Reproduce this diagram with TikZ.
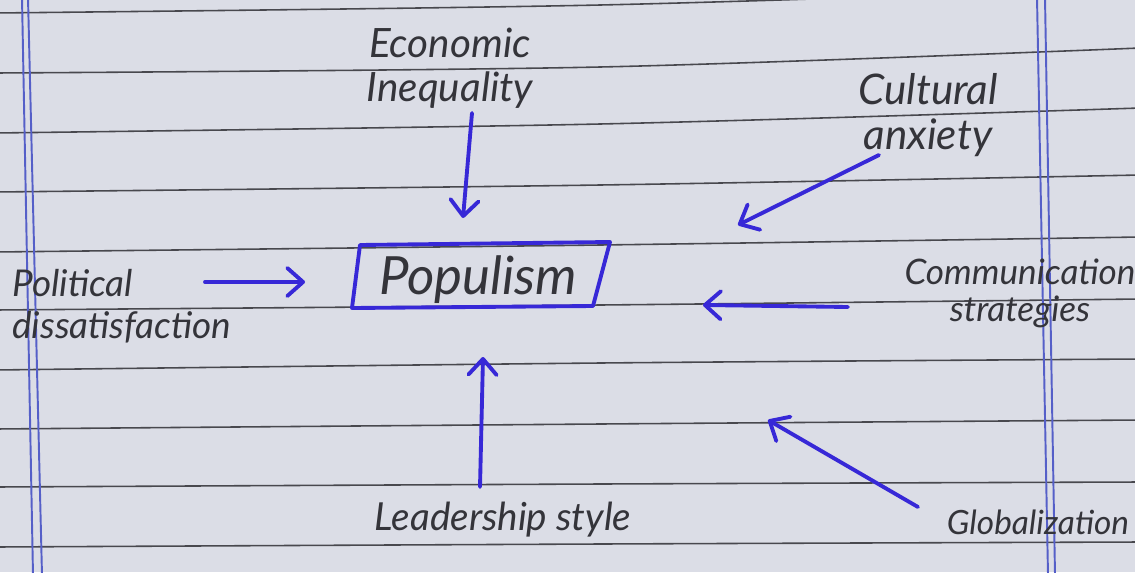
\documentclass[tikz,border=0pt]{standalone}
\usepackage{fontspec}
\setmainfont{Lato}
\usetikzlibrary{arrows.meta}
\definecolor{paper}{RGB}{219,221,230}
\definecolor{rule}{RGB}{72,72,78}
\definecolor{margin}{RGB}{85,95,200}
\definecolor{ink}{RGB}{55,40,215}
\definecolor{pencil}{RGB}{52,52,58}
\tikzset{
  ruleline/.style={draw=rule, line width=0.9pt},
  marginline/.style={draw=margin, line width=1.1pt},
  hand/.style={text=pencil, align=center, inner sep=0pt},
  arr/.style={draw=ink, line width=2.2pt, line cap=round,
    -{Straight Barb[length=9pt,width=16pt,round]}},
  popbox/.style={draw=ink, line width=2.2pt, line join=round},
}
\begin{document}
\begin{tikzpicture}[x=0.02cm, y=-0.02cm]
\useasboundingbox (0,0) rectangle (1135,572);
\clip (0,0) rectangle (1135,572);
\fill[paper] (0,0) rectangle (1135,572);
% ruled lines
\foreach \a/\b/\c in {13/5/-12, 73/67/48, 133/124/108, 192/185/175, 252/245/237,
  310/305/299, 370/363/359, 429/424/420, 487/484/482, 547/544/542}
  \draw[ruleline] plot[smooth] coordinates {(-5,\a) (600,\b) (1140,\c)};
% margin lines
\draw[marginline] (22,-2) -- (33,575);
\draw[marginline] (28,-2) -- (42,575);
\draw[marginline] (1037,-2) -- (1048,575);
\draw[marginline] (1045,-2) -- (1055,575);

% labels
\node[hand, font=\itshape\fontsize{23}{25}\selectfont] (econ) at (450,68) {Economic\\Inequality};
\node[hand, font=\itshape\fontsize{24}{26}\selectfont] (cult) at (928,115) {Cultural\\anxiety};
\node[hand, align=left, anchor=west, font=\itshape\fontsize{21}{24}\selectfont] (polit) at (12,306) {Political\\dissatisfaction};
\node[hand, font=\itshape\fontsize{30}{32}\selectfont] (pop) at (478,280) {Populism};
\node[hand, font=\itshape\fontsize{20}{21}\selectfont] (comm) at (1020,293) {Communication\\strategies};
\node[hand, font=\itshape\fontsize{22}{24}\selectfont] (lead) at (503,520) {Leadership style};
\node[hand, font=\itshape\fontsize{19}{22}\selectfont] (glob) at (1038,522) {Globalization};

% box around Populism
\coordinate (pop-tl) at (360,245);
\coordinate (pop-tr) at (610,242);
\coordinate (pop-br) at (593,306);
\coordinate (pop-bl) at (352,308);
\draw[popbox] (pop-tl) -- (pop-tr) -- (pop-br) -- (pop-bl) -- cycle;

% arrow ends
\coordinate (econ-s) at (472,113);  \coordinate (econ-e) at (463,218);
\coordinate (cult-s) at (879,155);  \coordinate (cult-e) at (738,225);
\coordinate (polit-s) at (205,282); \coordinate (polit-e) at (305,282);
\coordinate (comm-s) at (848,307);  \coordinate (comm-e) at (703,305);
\coordinate (lead-s) at (480,487);  \coordinate (lead-e) at (483,357);
\coordinate (glob-s) at (918,507);  \coordinate (glob-e) at (768,420);

\draw[arr] (econ-s) -- (econ-e);
\draw[arr] (cult-s) -- (cult-e);
\draw[arr] (polit-s) -- (polit-e);
\draw[arr] (comm-s) -- (comm-e);
\draw[arr] (lead-s) -- (lead-e);
\draw[arr] (glob-s) -- (glob-e);
\end{tikzpicture}
\end{document}
